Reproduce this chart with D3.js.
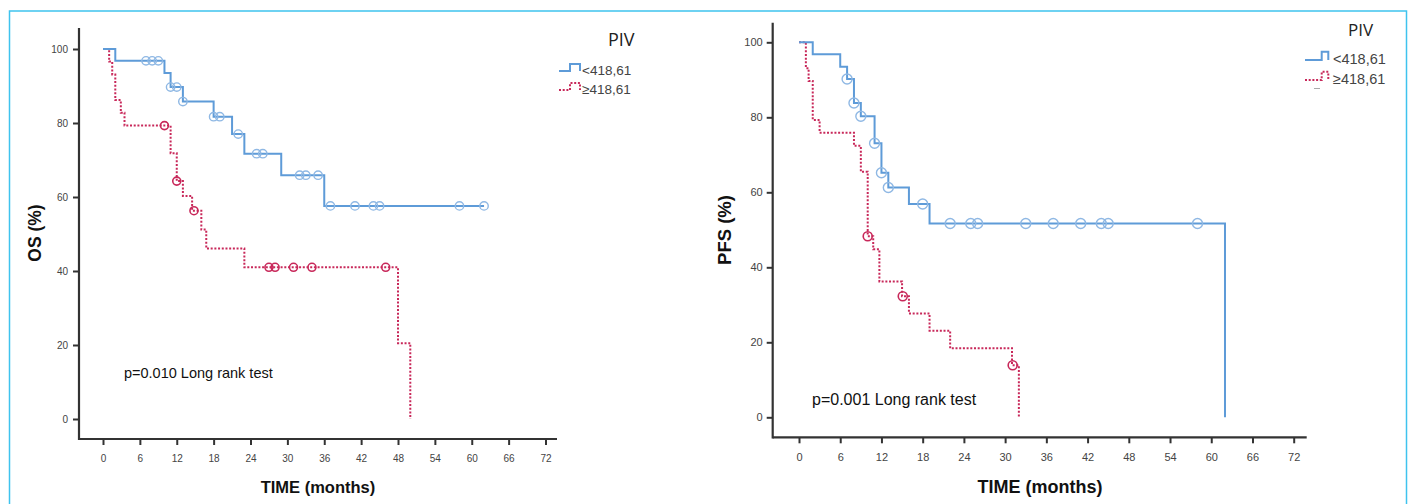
<!DOCTYPE html>
<html>
<head>
<meta charset="utf-8">
<script src="https://cdn.jsdelivr.net/npm/d3@7"></script>
<style>
  body { margin: 0; background: #fff; }
  text { font-family: "Liberation Sans", Arial, sans-serif; }
</style>
</head>
<body>
<div id="chart"></div>
<script>
// Kaplan-Meier steps: [time in months, survival %]
const groups = ["<418,61", "≥418,61"];
const xTicks = [0, 6, 12, 18, 24, 30, 36, 42, 48, 54, 60, 66, 72];
const yTicks = [0, 20, 40, 60, 80, 100];

// OS panel
const osLowSteps = [[0,100],[2,96.8],[10,93.5],[11,89.7],[13,85.8],[18,81.7],[21,77],[23,71.7],[29,65.9],[36,57.6],[62,57.6]];
const osLowCensor = [7, 8, 9, 11, 12, 13, 18, 19, 22, 25, 26, 32, 33, 35, 37, 41, 44, 45, 58, 62];
const osHighSteps = [[0,100],[1,96.6],[1.5,93.1],[2,86.2],[2.9,82.8],[3.5,79.3],[11,71.8],[12,64.3],[13,60.3],[14.5,56.3],[16,51.2],[16.8,46.1],[23,41],[48,20.5],[50,0]];
const osHighCensor = [10, 12, 14.8, 27, 28, 31, 34, 46];

// PFS panel
const pfsLowSteps = [[0,100],[2,96.8],[6,93.5],[7,90.2],[8,83.8],[9,80.3],[11,73.1],[12,65.2],[13,61.3],[16,56.9],[19,51.7],[62,0]];
const pfsLowCensor = [7, 8, 9, 11, 12, 13, 18, 22, 25, 26, 33, 37, 41, 44, 45, 58];
const pfsHighSteps = [[0,100],[1,93.1],[1.4,89.7],[2,79.3],[3,75.9],[8,72.4],[9,65.5],[10,48.3],[10.8,44.8],[11.7,36.2],[15,32.3],[16,27.7],[19,23.1],[22,18.4],[31,13.9],[32,0]];
const pfsHighCensor = [10, 15.1, 31.1];

const blue = "#5e9bd8", blueCircle = "#8fb8e4", red = "#c8285a";

const svg = d3.select("#chart").append("svg")
    .attr("width", 1412)
    .attr("height", 504);

// light blue frame
svg.append("rect")
    .attr("x", 9.5).attr("y", 11)
    .attr("width", 1397).attr("height", 500)
    .attr("fill", "none")
    .attr("stroke", "#3fc3ee")
    .attr("stroke-width", 1.5);

// value of a step curve at time t
function survAt(steps, t) {
    let v = steps[0][1];
    steps.forEach(s => { if (s[0] <= t) v = s[1]; });
    return v;
}

function drawPanel(p) {
    const x = d3.scaleLinear().domain([0, 72]).range(p.xRange);
    const y = d3.scaleLinear().domain([0, 100]).range(p.yRange);
    const g = svg.append("g");

    // x axis
    const xa = g.append("g")
        .attr("transform", `translate(0,${p.axisY})`)
        .call(d3.axisBottom(x).tickValues(xTicks).tickSize(6).tickFormat(d3.format("d")));
    xa.select(".domain").remove();
    xa.selectAll(".tick line").attr("stroke", "#333").attr("stroke-width", 2);
    xa.selectAll(".tick text").attr("y", 15.5).attr("fill", "#444")
        .style("font-size", p.tickFont + "px");
    g.append("line")
        .attr("x1", p.axisX).attr("x2", p.xEnd)
        .attr("y1", p.axisY).attr("y2", p.axisY)
        .attr("stroke", "#333").attr("stroke-width", 2.2);

    // y axis
    const ya = g.append("g")
        .attr("transform", `translate(${p.axisX},0)`)
        .call(d3.axisLeft(y).tickValues(yTicks).tickSize(6).tickPadding(p.yPad));
    ya.select(".domain").remove();
    ya.selectAll(".tick line").attr("stroke", "#333").attr("stroke-width", 2);
    ya.selectAll(".tick text").attr("fill", "#444")
        .style("font-size", p.tickFont + "px");
    g.append("line")
        .attr("x1", p.axisX).attr("x2", p.axisX)
        .attr("y1", p.yTop).attr("y2", p.axisY + 1.1)
        .attr("stroke", "#333").attr("stroke-width", 2.2);

    // titles
    g.append("text")
        .attr("x", p.xTitle[0]).attr("y", p.xTitle[1])
        .attr("text-anchor", "middle")
        .style("font-size", p.titleFont + "px")
        .style("font-weight", "bold")
        .attr("fill", "#111")
        .text("TIME (months)");
    g.append("text")
        .attr("transform", `translate(${p.yTitle[0]},${p.yTitle[1]}) rotate(-90)`)
        .attr("text-anchor", "middle")
        .style("font-size", p.yTitleFont + "px")
        .style("font-weight", "bold")
        .attr("fill", "#111")
        .text(p.yLabel);

    // p value
    g.append("text")
        .attr("x", p.pPos[0]).attr("y", p.pPos[1])
        .style("font-size", p.pFont + "px")
        .attr("fill", "#111")
        .text(p.pText);

    const line = d3.line()
        .x(d => x(d[0]))
        .y(d => y(d[1]))
        .curve(d3.curveStepAfter);

    // curves
    g.append("path")
        .datum(p.highSteps)
        .attr("d", line)
        .attr("fill", "none")
        .attr("stroke", red)
        .attr("stroke-width", 2)
        .attr("stroke-dasharray", "2,1.7");
    g.append("path")
        .datum(p.lowSteps)
        .attr("d", line)
        .attr("fill", "none")
        .attr("stroke", blue)
        .attr("stroke-width", 2);

    // censor marks
    g.selectAll(".cl")
        .data(p.lowCensor)
        .enter().append("circle")
        .attr("cx", d => x(d))
        .attr("cy", d => y(survAt(p.lowSteps, d)))
        .attr("r", p.rBlue)
        .attr("fill", "none")
        .attr("stroke", blueCircle)
        .attr("stroke-width", 1.4);
    g.selectAll(".ch")
        .data(p.highCensor)
        .enter().append("circle")
        .attr("cx", d => x(d))
        .attr("cy", d => y(survAt(p.highSteps, d)))
        .attr("r", p.rRed)
        .attr("fill", "none")
        .attr("stroke", red)
        .attr("stroke-width", 1.6);

    // legend
    const lg = g.append("g");
    lg.append("text")
        .attr("x", p.legTitle[0]).attr("y", p.legTitle[1])
        .style("font-family", "'Open Sans', sans-serif")
        .style("font-size", p.legTitleFont + "px")
        .attr("fill", "#222")
        .text("PIV");
    groups.forEach((name, i) => {
        const ly = p.legRows[i];
        const [x0, x1, x2] = p.legSym;
        lg.append("path")
            .attr("d", `M${x0},${ly} H${x1} V${ly - p.legStep} H${x2} V${ly}`)
            .attr("fill", "none")
            .attr("stroke", i === 0 ? blue : red)
            .attr("stroke-width", 2)
            .attr("stroke-dasharray", i === 0 ? null : "2,1.7");
        lg.append("text")
            .attr("x", p.legText).attr("y", ly + 4)
            .style("font-size", p.legFont + "px")
            .attr("fill", "#444")
            .text(name);
    });
    if (p.legDash) {
        lg.append("line")
            .attr("x1", p.legDash[0]).attr("x2", p.legDash[0] + 6)
            .attr("y1", p.legDash[1]).attr("y2", p.legDash[1])
            .attr("stroke", "#aaa").attr("stroke-width", 1);
    }
}

drawPanel({
    xRange: [103, 545.5], yRange: [419, 49],
    axisX: 79, axisY: 439, xEnd: 557, yTop: 28, yPad: 5,
    tickFont: 10, titleFont: 16.5, yTitleFont: 17.5,
    xTitle: [318, 493], yTitle: [41, 233], yLabel: "OS (%)",
    pPos: [124, 378], pFont: 14.5, pText: "p=0.010 Long rank test",
    lowSteps: osLowSteps, lowCensor: osLowCensor,
    highSteps: osHighSteps, highCensor: osHighCensor,
    rBlue: 4.2, rRed: 4,
    legTitle: [608, 46], legTitleFont: 18,
    legRows: [71, 90], legSym: [559, 570, 580], legStep: 7,
    legText: 582, legFont: 13.5
});

drawPanel({
    xRange: [799, 1293.7], yRange: [417.3, 42.3],
    axisX: 772.7, axisY: 437.3, xEnd: 1306.7, yTop: 22.7, yPad: 4,
    tickFont: 11, titleFont: 18, yTitleFont: 18.5,
    xTitle: [1040, 493], yTitle: [731, 230], yLabel: "PFS (%)",
    pPos: [812, 405], pFont: 16, pText: "p=0.001 Long rank test",
    lowSteps: pfsLowSteps, lowCensor: pfsLowCensor,
    highSteps: pfsHighSteps, highCensor: pfsHighCensor,
    rBlue: 5, rRed: 4.5,
    legTitle: [1348, 36], legTitleFont: 17,
    legRows: [60, 80], legSym: [1305, 1321.7, 1328.3], legStep: 8.3,
    legText: 1333, legFont: 14.5,
    legDash: [1314, 88.5]
});
</script>
</body>
</html>
